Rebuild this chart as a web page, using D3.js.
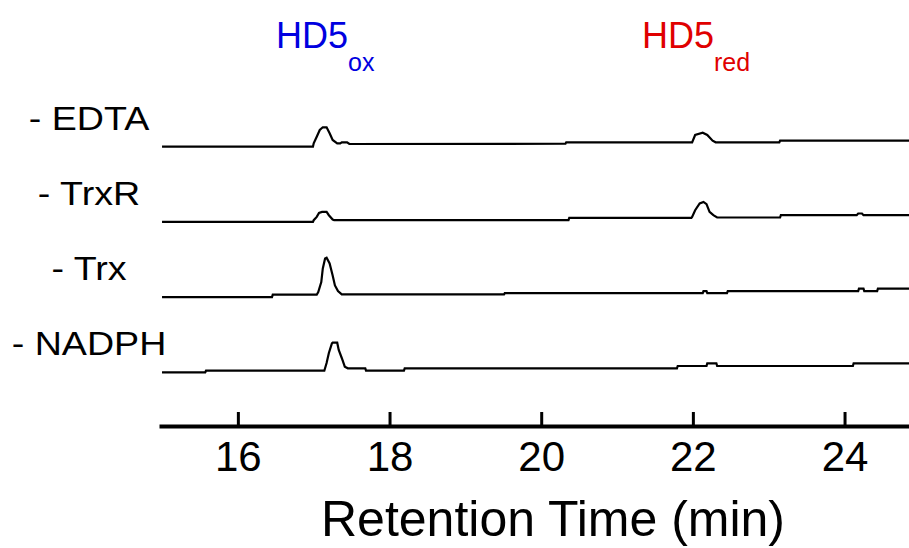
<!DOCTYPE html>
<html>
<head>
<meta charset="utf-8">
<script src="https://cdn.jsdelivr.net/npm/d3@7"></script>
<style>
  html, body { margin: 0; padding: 0; background: #fff; }
  svg { display: block; font-family: "Liberation Sans", Arial, sans-serif; }
</style>
</head>
<body>
<svg id="chart" width="909" height="548"></svg>
<script>
// ---- Data (retention time in min, signal in arbitrary absorbance units above each trace's start) ----
const samples = ["- EDTA", "- TrxR", "- Trx", "- NADPH"];

const traceEDTA = [
  [15.00, 0], [16.99, 0], [17.00, 3.4], [17.04, 10], [17.08, 16.7], [17.12, 19.4], [17.17, 19.4],
  [17.21, 13.4], [17.25, 6.7], [17.31, 3.4], [17.35, 3.4], [17.37, 4.4], [17.44, 4.4], [17.47, 2.7],
  [20.32, 3.0], [20.33, 4.4], [21.99, 4.4], [22.03, 11.7], [22.13, 14], [22.19, 11.7], [22.26, 6],
  [22.30, 4.4], [23.14, 4.4], [23.15, 6], [24.86, 6]
];
const traceTrxR = [
  [15.00, 0], [16.99, 0], [17.00, 1.7], [17.04, 5], [17.07, 9], [17.11, 10], [17.17, 10],
  [17.20, 6.7], [17.25, 2.4], [17.27, 1.7], [20.36, 1.7], [20.37, 4], [21.98, 4], [21.99, 5], [22.03, 11.7],
  [22.09, 18.4], [22.14, 20], [22.18, 17.7], [22.22, 10], [22.27, 6.7], [22.32, 4.4], [23.15, 4.4],
  [23.16, 6.7], [24.16, 6.7], [24.18, 8.4], [24.23, 8.4], [24.25, 6.7], [24.86, 6.7]
];
const traceTrx = [
  [15.00, 0], [16.45, 0], [16.46, 2.4], [17.04, 2.4], [17.06, 5], [17.10, 15], [17.12, 28.7],
  [17.15, 38.7], [17.17, 39.4], [17.21, 33.7], [17.25, 21.7], [17.28, 11.7], [17.32, 6], [17.37, 2.7],
  [19.51, 2.7], [19.52, 4], [22.13, 4], [22.14, 6], [22.18, 6], [22.19, 4], [22.45, 4], [22.46, 6],
  [24.18, 6], [24.19, 8.4], [24.25, 8.4], [24.26, 6], [24.43, 6], [24.44, 8.4], [24.86, 8.4]
];
const traceNADPH = [
  [15.00, 0], [15.57, 0], [15.58, 1.6], [17.14, 1.6], [17.17, 9.3], [17.20, 19.3], [17.24, 29],
  [17.25, 29.6], [17.31, 29.6], [17.33, 22.3], [17.37, 14.3], [17.41, 5.6], [17.45, 4], [17.68, 4],
  [17.69, 1.6], [18.19, 1.6], [18.20, 4], [21.79, 4], [21.80, 6.3], [22.18, 6.3], [22.19, 9],
  [22.31, 9], [22.32, 6.3], [24.11, 6.3], [24.12, 9], [24.86, 9]
];
const traces = [traceEDTA, traceTrxR, traceTrx, traceNADPH];

const xTicks = [16, 18, 20, 22, 24];
const xTitle = "Retention Time (min)";
const peakLabels = [
  { main: "HD5", sub: "ox", color: "#0000e0" },
  { main: "HD5", sub: "red", color: "#e00000" }
];

// ---- Layout ----
const svg = d3.select("#chart");
const font = '"Liberation Sans", Arial, sans-serif';

const x = d3.scaleLinear().domain([14.96, 24.85]).range([159, 909]);
const lane = d3.scalePoint().domain(samples).range([146.7, 372.3]);
const y = d3.scaleLinear().domain([0, 40]).range([0, -40]);

const line = d3.line().x(d => x(d[0])).y(d => y(d[1]));

// Traces
samples.forEach((s, i) => {
  svg.append("path")
    .datum(traces[i])
    .attr("transform", `translate(0,${lane(s)})`)
    .attr("d", line)
    .attr("fill", "none")
    .attr("stroke", "#000")
    .attr("stroke-width", 2.2)
    .attr("stroke-linejoin", "miter");

  // sample label (slightly horizontally stretched, centred)
  svg.append("text")
    .attr("transform", `translate(89,${lane(s) - 17}) scale(1.14,1)`)
    .attr("text-anchor", "middle")
    .attr("font-size", 33)
    .attr("fill", "#000")
    .text(s);
});

// Axis
const axisY = 426;
const axis = d3.axisBottom(x)
  .tickValues(xTicks)
  .tickFormat(d3.format("d"))
  .tickSizeInner(-14)
  .tickSizeOuter(0);

const gAxis = svg.append("g")
  .attr("transform", `translate(0,${axisY})`)
  .call(axis);
gAxis.select(".domain").attr("stroke", "#000").attr("stroke-width", 4);
gAxis.selectAll(".tick line").attr("stroke", "#000").attr("stroke-width", 3);
gAxis.selectAll(".tick text")
  .attr("y", 45)
  .attr("dy", null)
  .attr("font-size", 42)
  .attr("font-family", font)
  .attr("fill", "#000");

// Axis title
svg.append("text")
  .attr("x", 553)
  .attr("y", 536)
  .attr("text-anchor", "middle")
  .attr("font-size", 50)
  .attr("fill", "#000")
  .text(xTitle);

// Peak labels
const peakLabelX = [276, 642];
peakLabels.forEach((p, i) => {
  const t = svg.append("text")
    .attr("x", peakLabelX[i])
    .attr("y", 48)
    .attr("fill", p.color)
    .attr("font-size", 36);
  t.append("tspan").text(p.main);
  t.append("tspan").attr("font-size", 25).attr("dy", 23).text(p.sub);
});
</script>
</body>
</html>
